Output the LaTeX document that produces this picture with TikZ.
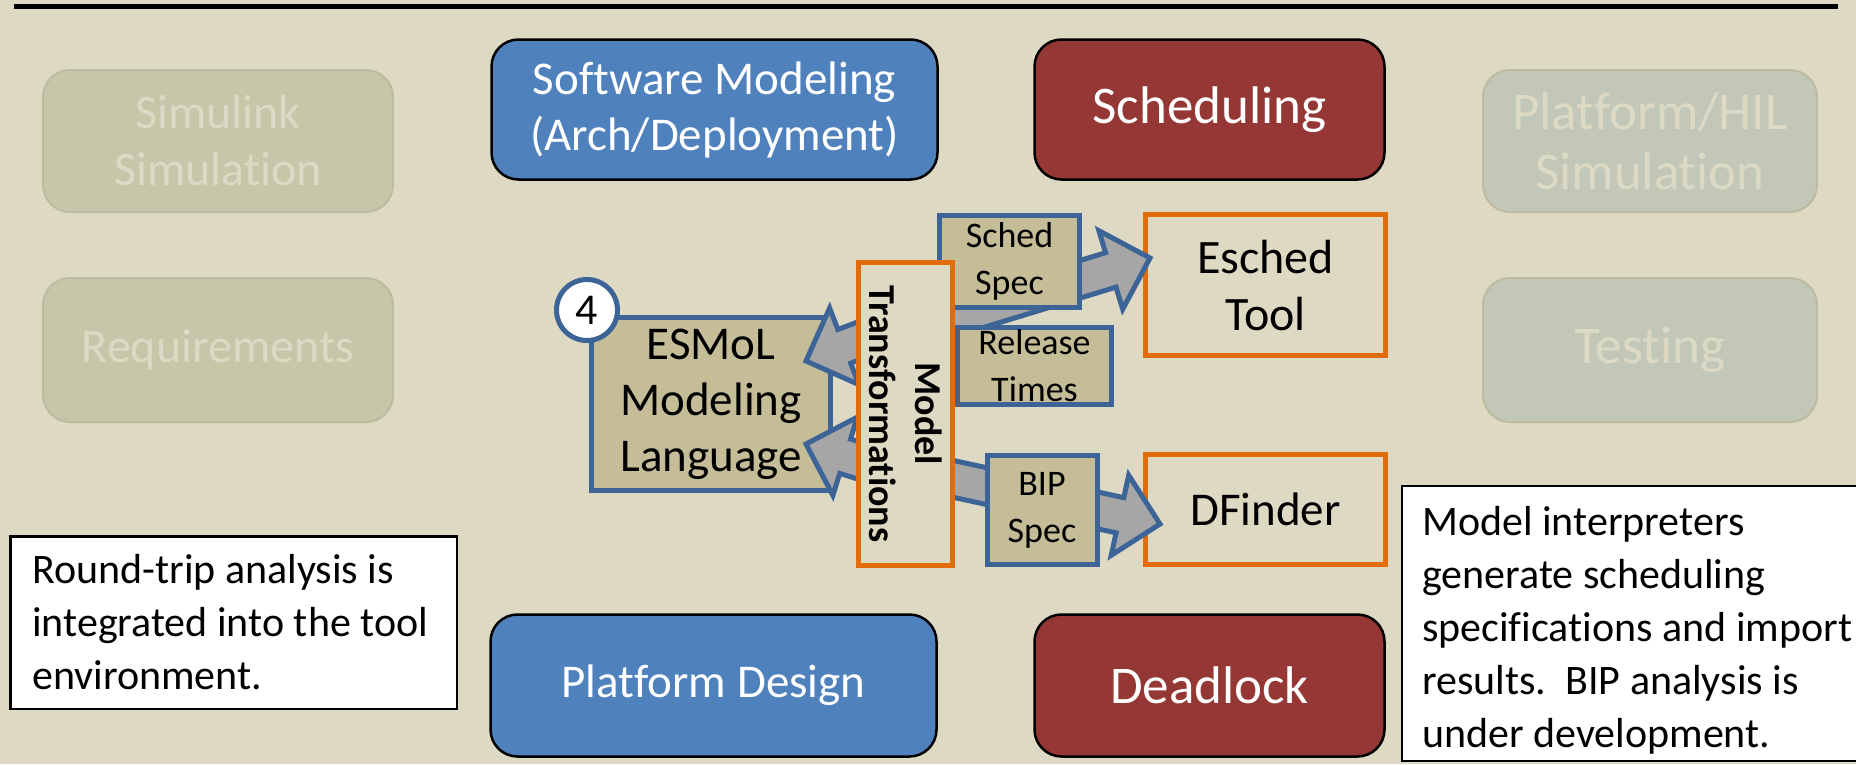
\documentclass[tikz,border=0pt]{standalone}
\usepackage{fontspec}
\setmainfont{Carlito}[Ligatures=NoCommon]
\usetikzlibrary{calc}
\definecolor{bg}{HTML}{DDD9C3}
\definecolor{accblue}{HTML}{4F81BD}
\definecolor{accred}{HTML}{953735}
\definecolor{fadeA}{HTML}{C8C6A9}
\definecolor{fadeB}{HTML}{C3C7B7}
\definecolor{fadeBorder}{HTML}{BDBBA0}
\definecolor{fadeText}{HTML}{DCDAC5}
\definecolor{tanfill}{HTML}{C4BD97}
\definecolor{bblue}{HTML}{3C6496}
\definecolor{orng}{HTML}{E36C0A}
\definecolor{agray}{HTML}{A6A6A6}
\newcommand\myblockarrow[2]{%
  \coordinate (hb) at ($(#2)!41pt!(#1)$);
  \filldraw[arrowsty] ($(#1)!18pt!90:(#2)$) -- ($(hb)!18pt!90:(#2)$) -- ($(hb)!41pt!90:(#2)$) -- (#2)
    -- ($(hb)!41pt!-90:(#2)$) -- ($(hb)!18pt!-90:(#2)$) -- ($(#1)!18pt!-90:(#2)$) -- cycle;
}
\begin{document}
\begin{tikzpicture}[x=1pt,y=-1pt,
  bigtxt/.style={font=\fontsize{47pt}{56pt}\selectfont, align=center},
  largetxt/.style={font=\fontsize{53pt}{60pt}\selectfont, align=center},
  midtxt/.style={font=\fontsize{36pt}{47pt}\selectfont, align=center},
  notetxt/.style={font=\fontsize{42pt}{53pt}\selectfont, align=left, inner sep=0pt},
  rbox/.style={rounded corners=27pt, line width=2.5pt, draw=black, text=white, inner sep=0pt},
  fbox/.style={rounded corners=27pt, line width=2pt, draw=fadeBorder, text=fadeText, inner sep=0pt},
  sqbox/.style={draw=bblue, line width=5pt, fill=tanfill, inner sep=0pt},
  orbox/.style={draw=orng, line width=5pt, fill=bg, inner sep=0pt},
  notebox/.style={draw=black, line width=2.5pt, fill=white, inner sep=0pt},
  arrowsty/.style={fill=agray, draw=bblue, line width=5pt, line join=miter, miter limit=10}
]
\useasboundingbox (0,0) rectangle (1856,764);
\clip (0,0) rectangle (1856,764);
\fill[bg] (0,0) rectangle (1856,764);
\draw[line width=5pt] (14,6) -- (1838,6);

% faded boxes
\node[fbox, bigtxt, font=\fontsize{48pt}{57pt}\selectfont, fill=fadeA, minimum width=350pt, minimum height=142pt] (sim) at (218,141) {Simulink\\Simulation};
\node[fbox, bigtxt, font=\fontsize{48pt}{57pt}\selectfont, fill=fadeA, minimum width=350pt, minimum height=144pt] (req) at (218,350) {Requirements};
\node[fbox, largetxt, fill=fadeB, minimum width=334pt, minimum height=142pt] (plat) at (1650,141) {Platform/HIL\\Simulation};
\node[fbox, largetxt, fill=fadeB, minimum width=334pt, minimum height=144pt] (test) at (1650,350) {Testing};

% coloured boxes
\node[rbox, bigtxt, fill=accblue, minimum width=446pt, minimum height=140pt] (swm) at (714.5,109.5) {Software Modeling\\(Arch/Deployment)};
\node[rbox, largetxt, fill=accred, minimum width=350pt, minimum height=140pt] (schd) at (1209.5,109.5) {Scheduling};
\node[rbox, bigtxt, fill=accblue, minimum width=446pt, minimum height=142pt] (pdes) at (713.5,685.5) {Platform Design};
\node[rbox, largetxt, fill=accred, minimum width=350pt, minimum height=142pt] (dead) at (1209.5,685.5) {Deadlock};

% notes
\node[notebox, minimum width=446.5pt, minimum height=172.5pt] (note1) at (233.5,622.5) {};
\node[notetxt, anchor=west] (note1txt) at (32,622)
  {Round-trip analysis is\\integrated into the tool\\environment.};
\node[notebox, minimum width=500pt, minimum height=275pt] (note2) at (1652,623.5) {};
\node[notetxt, anchor=west] (note2txt) at (1422,630)
  {Model interpreters\\generate scheduling\\specifications and import\\results.\ \ BIP analysis is\\under development.};

% tools
\node[orbox, bigtxt, font=\fontsize{48pt}{57pt}\selectfont, minimum width=240pt, minimum height=141pt] (est) at (1265.5,285) {Esched\\Tool};
\node[orbox, bigtxt, minimum width=240pt, minimum height=110pt] (dfi) at (1265.5,509.5) {DFinder};
\node[sqbox, bigtxt, minimum width=239pt, minimum height=173pt] (esmol) at (711,404) {ESMoL\\Modeling\\Language};
\node[circle, draw=bblue, line width=5pt, fill=white, minimum size=61pt, inner sep=0pt,
      font=\fontsize{44pt}{44pt}\selectfont] (four) at (587,310) {4};

% block arrows
\coordinate (e1) at (900,334);  \coordinate (e2) at (1150,258);
\coordinate (d1) at (899,467);  \coordinate (d2) at (1160,524);
\coordinate (u1) at (934,312);  \coordinate (u2) at (806,361);
\coordinate (l1) at (937,485);  \coordinate (l2) at (806,444);
\myblockarrow{e1}{e2}
\myblockarrow{d1}{d2}
\myblockarrow{u1}{u2}
\myblockarrow{l1}{l2}

% spec boxes and transformations
\node[sqbox, midtxt, minimum width=140pt, minimum height=92pt] (ss) at (1009.5,261.5) {Sched\\Spec};
\node[orbox, rotate=-90, font=\fontsize{38pt}{46pt}\selectfont\bfseries, align=center,
      minimum width=303pt, minimum height=94pt] (mt) at (905.5,414) {Model\\Transformations};
\node[sqbox, midtxt, minimum width=154pt, minimum height=77pt] (rt) at (1034.5,366) {Release\\Times};
\node[sqbox, midtxt, minimum width=110pt, minimum height=109pt] (bip) at (1042,510) {BIP\\Spec};
\end{tikzpicture}
\end{document}
